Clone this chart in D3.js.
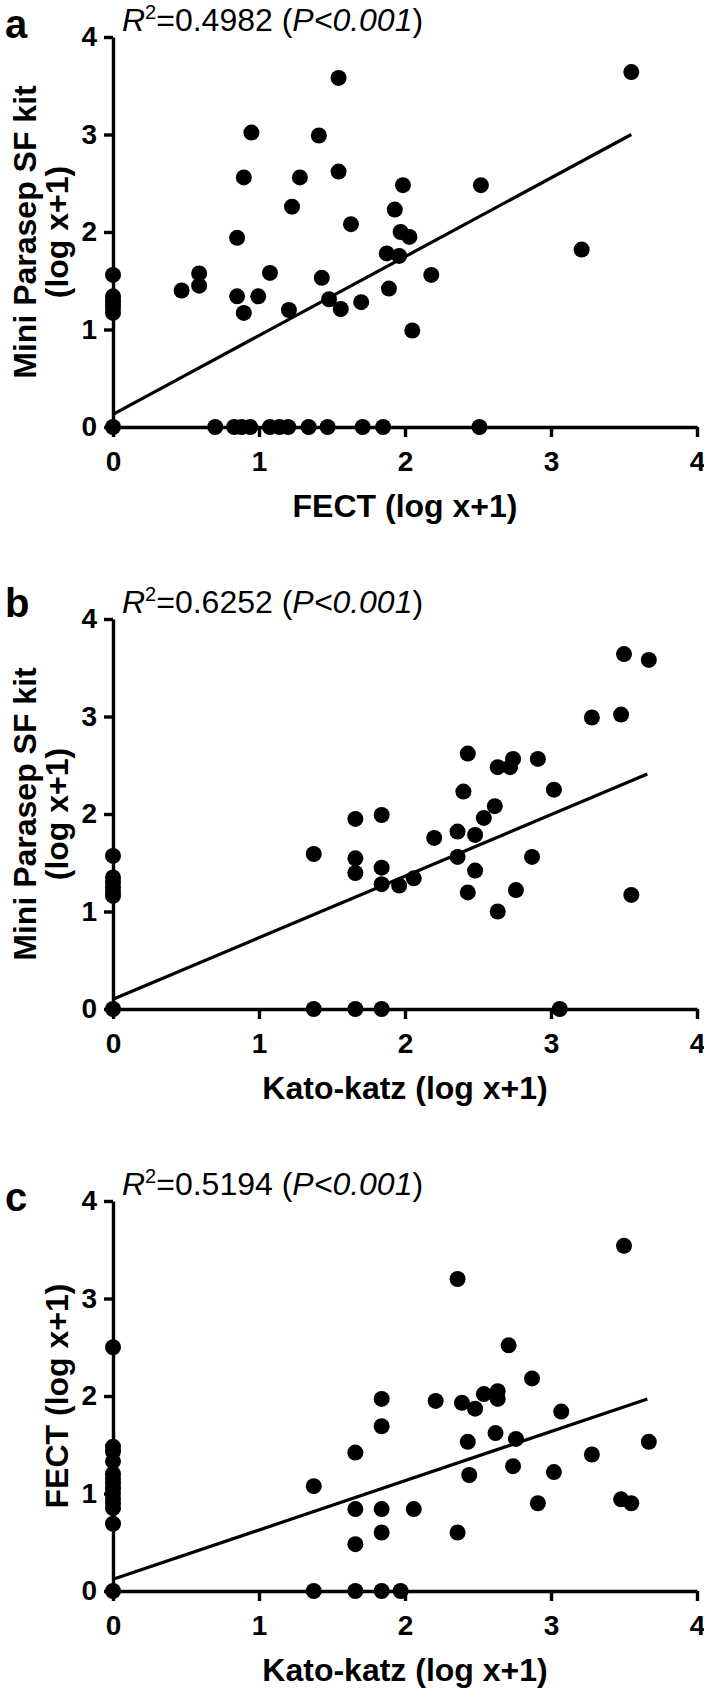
<!DOCTYPE html>
<html>
<head>
<meta charset="utf-8">
<script src="https://cdn.jsdelivr.net/npm/d3@7"></script>
<style>
  body { margin: 0; background: #fff; }
  svg { display: block; }
</style>
</head>
<body>
<div id="chart"></div>
<script>
// tick values shared by all three panels
var ticks = [0, 1, 2, 3, 4];

var panelLetters = ["a", "b", "c"];
var r2Values = ["0.4982", "0.6252", "0.5194"];
var xTitles = ["FECT (log x+1)", "Kato-katz (log x+1)", "Kato-katz (log x+1)"];
var yTitles = [["Mini Parasep SF kit", "(log x+1)"], ["Mini Parasep SF kit", "(log x+1)"], ["FECT (log x+1)"]];

// panel a : FECT (x) vs Mini Parasep (y)
var fectA = [3.55, 1.545, 0.948, 1.41, 1.545, 0.896, 1.28, 1.986, 2.52, 1.226, 1.93, 1.63, 0.85, 1.97, 2.03, 3.21, 1.875, 1.96,
  0.59, 1.075, 2.18, 0.59, 1.43, 0.47, 1.89, 0.85, 0.995, 1.48, 1.70, 1.56, 1.205, 0.896, 2.05,
  0, 0, 0, 0, 0, 0,
  0, 0.70, 0.83, 0.88, 0.94, 1.075, 1.14, 1.20, 1.34, 1.47, 1.71, 1.85, 2.51];
var miniA = [3.64, 3.58, 3.02, 2.99, 2.62, 2.56, 2.56, 2.48, 2.48, 2.26, 2.23, 2.08, 1.94, 2.00, 1.95, 1.82, 1.78, 1.755,
  1.575, 1.58, 1.56, 1.45, 1.53, 1.40, 1.42, 1.34, 1.34, 1.31, 1.28, 1.21, 1.20, 1.17, 0.99,
  1.56, 1.34, 1.30, 1.26, 1.22, 1.17,
  0, 0, 0, 0, 0, 0, 0, 0, 0, 0, 0, 0, 0];

// panel b : Kato-katz (x) vs Mini Parasep (y)
var kkB = [3.50, 3.67, 3.28, 3.48, 2.43, 2.635, 2.72, 2.74, 2.91, 2.40, 3.02, 2.615, 1.66, 1.84, 2.54, 2.20, 2.36, 2.48,
  1.375, 1.66, 2.36, 2.87, 1.66, 1.84, 2.48, 1.84, 1.96, 2.06, 2.43, 2.76, 3.55, 2.635,
  0, 0, 0, 0, 0, 0,
  0, 1.375, 1.66, 1.84, 3.06];
var miniB = [3.64, 3.58, 2.99, 3.02, 2.62, 2.48, 2.48, 2.565, 2.565, 2.23, 2.25, 2.08, 1.95, 1.99, 1.96, 1.755, 1.82, 1.785,
  1.59, 1.545, 1.56, 1.56, 1.395, 1.45, 1.42, 1.28, 1.266, 1.34, 1.196, 1.22, 1.17, 1.00,
  1.57, 1.35, 1.30, 1.25, 1.20, 1.16,
  0, 0, 0, 0, 0];

// panel c : Kato-katz (x) vs FECT (y)
var kkC = [3.50, 2.36, 2.71, 2.87, 2.21, 1.84, 2.39, 2.48, 2.54, 2.635, 2.635, 3.07, 1.84, 2.62, 2.43, 2.76, 3.67,
  1.66, 3.28, 2.74, 2.44, 3.02, 1.375, 3.48, 3.55, 2.91, 1.66, 1.84, 2.06, 2.36, 1.84, 1.66,
  0, 0, 0, 0, 0, 0, 0, 0, 0, 0, 0, 0, 0,
  0, 1.375, 1.66, 1.84, 1.97];
var fectC = [3.54, 3.20, 2.52, 2.18, 1.95, 1.97, 1.93, 1.87, 2.02, 2.05, 1.97, 1.84, 1.69, 1.62, 1.53, 1.56, 1.53,
  1.42, 1.40, 1.28, 1.19, 1.22, 1.075, 0.94, 0.90, 0.90, 0.84, 0.84, 0.84, 0.60, 0.60, 0.48,
  2.50, 1.48, 1.43, 1.33, 1.20, 1.15, 1.10, 1.05, 1.00, 0.95, 0.90, 0.85, 0.69,
  0, 0, 0, 0, 0];

// regression line end points [x, y]
var fitA = [[0, 0.13], [3.55, 3.00]];
var fitB = [[0, 0.10], [3.66, 2.41]];
var fitC = [[0, 0.12], [3.66, 1.97]];

var panels = [
  { xs: fectA, ys: miniA, fit: fitA },
  { xs: kkB, ys: miniB, fit: fitB },
  { xs: kkC, ys: fectC, fit: fitC }
];

var W = 704, H = 1694;
var plotLeft = 113, plotWidth = 584, plotTop = 37, plotHeight = 390, panelStep = 582;
// baseline of each panel letter, relative to the top of its plot
var letterY = [1, -2, 10];

var svg = d3.select("#chart").append("svg")
    .attr("width", W)
    .attr("height", H)
    .style("font-family", "'Liberation Sans', Arial, Helvetica, sans-serif");

var x = d3.scaleLinear().domain([0, 4]).range([0, plotWidth]);
var y = d3.scaleLinear().domain([0, 4]).range([plotHeight, 0]);

panels.forEach(function(p, i) {
  var g = svg.append("g")
      .attr("transform", "translate(" + plotLeft + "," + (plotTop + i * panelStep) + ")");

  // axes
  g.append("g")
      .attr("class", "axis")
      .attr("transform", "translate(0," + plotHeight + ")")
      .call(d3.axisBottom(x).tickValues(ticks).tickFormat(d3.format("d"))
        .tickSize(10).tickSizeOuter(0).tickPadding(14));

  g.append("g")
      .attr("class", "axis")
      .call(d3.axisLeft(y).tickValues(ticks).tickFormat(d3.format("d"))
        .tickSize(9).tickSizeOuter(0).tickPadding(7));

  g.selectAll(".axis path, .axis line")
      .attr("stroke", "#000")
      .attr("stroke-width", 3.4);
  g.selectAll(".axis text")
      .attr("fill", "#000")
      .attr("font-size", "28px")
      .attr("font-weight", "bold");

  // regression line
  g.append("path")
      .datum(p.fit)
      .attr("fill", "none")
      .attr("stroke", "#000")
      .attr("stroke-width", 3.2)
      .attr("d", d3.line().x(function(d) { return x(d[0]) }).y(function(d) { return y(d[1]) }));

  // points
  g.selectAll("circle")
      .data(p.xs.map(function(v, k) { return [v, p.ys[k]] }))
      .enter().append("circle")
      .attr("cx", function(d) { return x(d[0]) })
      .attr("cy", function(d) { return y(d[1]) })
      .attr("r", 8)
      .attr("fill", "#000");

  // panel letter
  g.append("text")
      .text(panelLetters[i])
      .attr("x", 5 - plotLeft)
      .attr("y", letterY[i])
      .attr("font-size", "40px")
      .attr("font-weight", "bold");

  // R squared annotation
  var r2 = g.append("text")
      .attr("x", 9)
      .attr("y", -6)
      .attr("font-size", "32px");
  r2.append("tspan").attr("font-style", "italic").text("R");
  r2.append("tspan").attr("font-size", "20px").attr("dy", -12).text("2");
  r2.append("tspan").attr("dy", 12).text("=" + r2Values[i] + " (");
  r2.append("tspan").attr("font-style", "italic").text("P<0.001");
  r2.append("tspan").text(")");

  // x title
  g.append("text")
      .text(xTitles[i])
      .attr("x", plotWidth / 2)
      .attr("y", plotHeight + 90)
      .attr("text-anchor", "middle")
      .attr("font-size", "32px")
      .attr("font-weight", "bold");

  // y title (one or two lines)
  var lines = yTitles[i];
  var lineX = lines.length == 2 ? [25, 57] : [57];
  lines.forEach(function(t, k) {
    g.append("text")
        .text(t)
        .attr("transform", "translate(" + (lineX[k] - plotLeft) + "," + (plotHeight / 2) + ") rotate(-90)")
        .attr("text-anchor", "middle")
        .attr("dy", "0.35em")
        .attr("font-size", "32px")
        .attr("font-weight", "bold");
  });
});
</script>
</body>
</html>
